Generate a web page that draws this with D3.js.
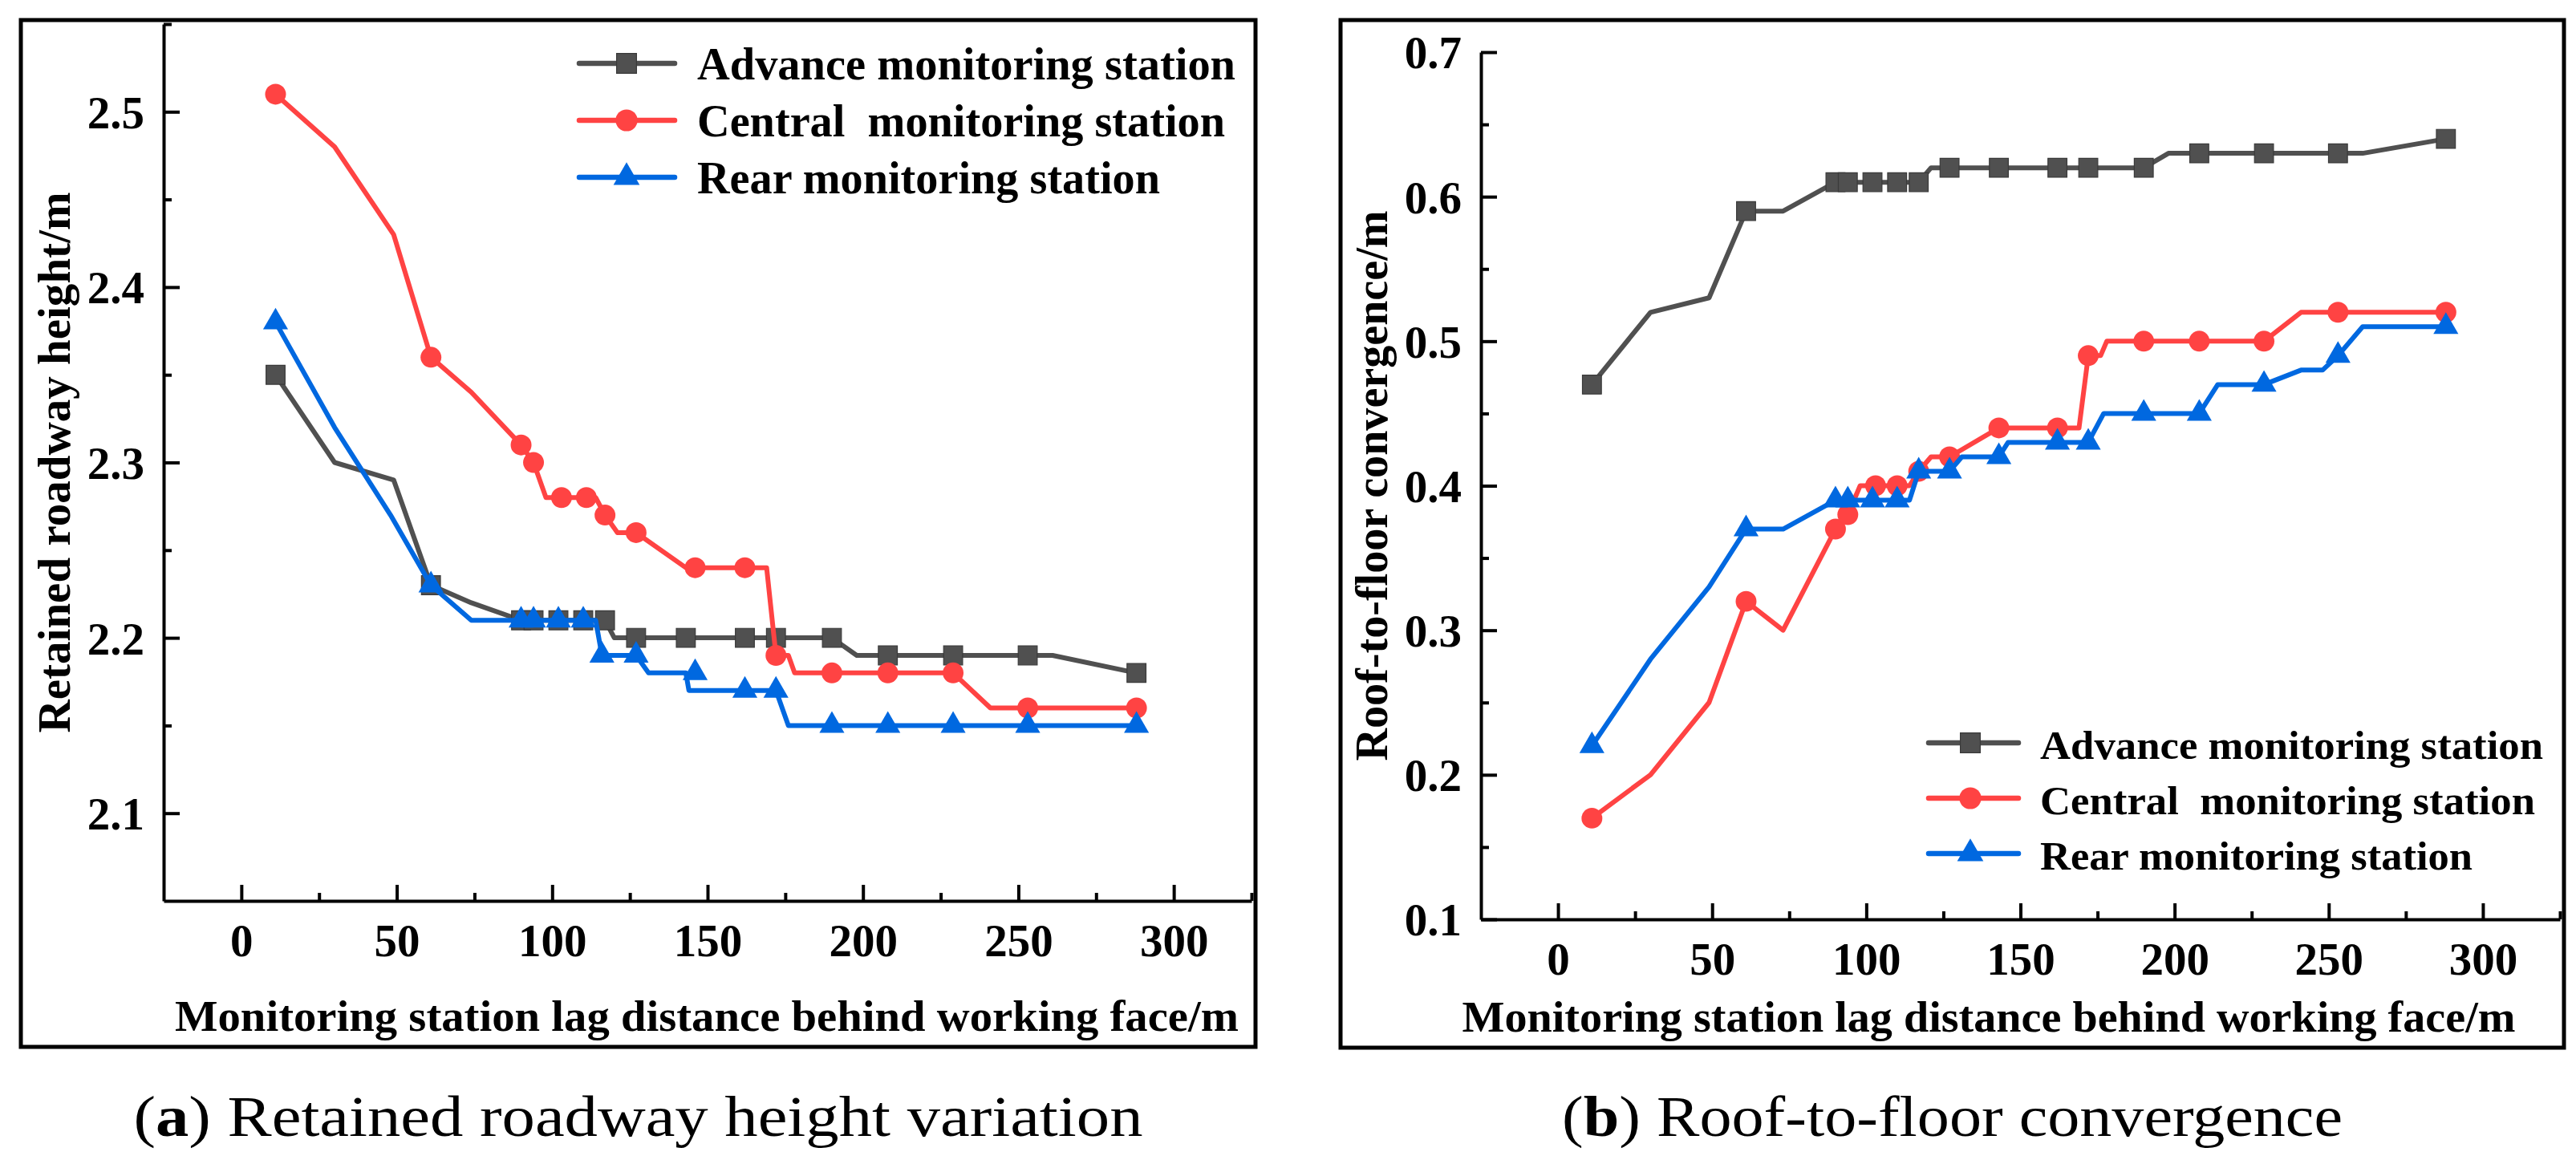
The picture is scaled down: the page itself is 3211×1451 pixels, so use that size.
<!DOCTYPE html>
<html>
<head>
<meta charset="utf-8">
<script src="https://cdn.jsdelivr.net/npm/d3@7"></script>
<style>
  body { margin: 0; background: #fff; }
  text { font-family: "Liberation Serif", "Times New Roman", serif; }
</style>
</head>
<body>
<svg id="chart" width="3211" height="1451"></svg>
<script>
// ---- data ----
const seriesNames = ["Advance monitoring station", "Central  monitoring station", "Rear monitoring station"];

// (a) retained roadway height, line vertices [x, y]
const heightAdvance = [[11,2.35],[30,2.30],[49,2.29],[61,2.23],[74,2.22],[90,2.21],[94,2.21],[102,2.21],[110,2.21],[117,2.21],[120,2.20],[127,2.20],[143,2.20],[162,2.20],[172,2.20],[190,2.20],[198,2.19],[208,2.19],[229,2.19],[253,2.19],[261,2.19],[288,2.18]];
const heightCentral = [[11,2.51],[30,2.48],[49,2.43],[61,2.36],[74,2.34],[90,2.31],[94,2.30],[98,2.28],[103,2.28],[111,2.28],[114,2.28],[117,2.27],[121,2.26],[127,2.26],[143,2.24],[146,2.24],[162,2.24],[169,2.24],[172,2.19],[176,2.19],[178,2.18],[190,2.18],[208,2.18],[229,2.18],[241,2.16],[253,2.16],[288,2.16]];
const heightRear = [[11,2.38],[30,2.32],[48,2.27],[61,2.23],[74,2.21],[90,2.21],[94,2.21],[102,2.21],[110,2.21],[114,2.21],[116,2.19],[127,2.19],[131,2.18],[143,2.18],[144,2.17],[162,2.17],[172,2.17],[176,2.15],[190,2.15],[208,2.15],[229,2.15],[253,2.15],[288,2.15]];
// (a) measured points carrying a symbol
const heightAdvanceMarks = [[11,2.35],[61,2.23],[90,2.21],[94,2.21],[102,2.21],[110,2.21],[117,2.21],[127,2.20],[143,2.20],[162,2.20],[172,2.20],[190,2.20],[208,2.19],[229,2.19],[253,2.19],[288,2.18]];
const heightCentralMarks = [[11,2.51],[61,2.36],[90,2.31],[94,2.30],[103,2.28],[111,2.28],[117,2.27],[127,2.26],[146,2.24],[162,2.24],[172,2.19],[190,2.18],[208,2.18],[229,2.18],[253,2.16],[288,2.16]];
const heightRearMarks = [[11,2.38],[61,2.23],[90,2.21],[94,2.21],[102,2.21],[110,2.21],[116,2.19],[127,2.19],[146,2.18],[162,2.17],[172,2.17],[190,2.15],[208,2.15],[229,2.15],[253,2.15],[288,2.15]];

// (b) roof-to-floor convergence, line vertices [x, y]
const convAdvance = [[11,0.47],[30,0.52],[49,0.53],[61,0.59],[73,0.59],[90,0.61],[94,0.61],[102,0.61],[110,0.61],[117,0.61],[121,0.62],[127,0.62],[143,0.62],[162,0.62],[172,0.62],[190,0.62],[198,0.63],[208,0.63],[229,0.63],[253,0.63],[261,0.63],[288,0.64]];
const convCentral = [[11,0.17],[30,0.20],[49,0.25],[61,0.32],[73,0.30],[90,0.37],[94,0.38],[98,0.40],[103,0.40],[110,0.40],[114,0.40],[117,0.41],[121,0.42],[127,0.42],[143,0.44],[162,0.44],[169,0.44],[172,0.49],[176,0.49],[178,0.50],[190,0.50],[208,0.50],[229,0.50],[241,0.52],[253,0.52],[288,0.52]];
const convRear = [[11,0.22],[30,0.28],[49,0.33],[61,0.37],[73,0.37],[90,0.39],[94,0.39],[102,0.39],[110,0.39],[114,0.39],[117,0.41],[127,0.41],[131,0.42],[143,0.42],[146,0.43],[162,0.43],[172,0.43],[177,0.45],[190,0.45],[208,0.45],[214,0.47],[229,0.47],[241,0.48],[248,0.48],[253,0.49],[261,0.51],[288,0.51]];
// (b) measured points carrying a symbol
const convAdvanceMarks = [[11,0.47],[61,0.59],[90,0.61],[94,0.61],[102,0.61],[110,0.61],[117,0.61],[127,0.62],[143,0.62],[162,0.62],[172,0.62],[190,0.62],[208,0.63],[229,0.63],[253,0.63],[288,0.64]];
const convCentralMarks = [[11,0.17],[61,0.32],[90,0.37],[94,0.38],[103,0.40],[110,0.40],[117,0.41],[127,0.42],[143,0.44],[162,0.44],[172,0.49],[190,0.50],[208,0.50],[229,0.50],[253,0.52],[288,0.52]];
const convRearMarks = [[11,0.22],[61,0.37],[90,0.39],[94,0.39],[102,0.39],[110,0.39],[117,0.41],[127,0.41],[143,0.42],[162,0.43],[172,0.43],[190,0.45],[208,0.45],[229,0.47],[253,0.49],[288,0.51]];

// ticks
const xMajor = [0, 50, 100, 150, 200, 250, 300];
const xMinor = [25, 75, 125, 175, 225, 275, 325];
const heightMajor = [2.1, 2.2, 2.3, 2.4, 2.5];
const heightMinor = [2.15, 2.25, 2.35, 2.45, 2.55];
const convMajor = [0.1, 0.2, 0.3, 0.4, 0.5, 0.6, 0.7];
const convMinor = [0.15, 0.25, 0.35, 0.45, 0.55, 0.65];

// ---- styling ----
const colors = ["#505050", "#ff4343", "#0068e0"];
const symbols = [d3.symbolSquare, d3.symbolCircle, d3.symbolTriangle];
const symbolSizes = [560, 530, 420];
const font = "'Liberation Serif', 'Times New Roman', serif";

const svg = d3.select("#chart");

// squeeze the text to the width measured on the figure (glyphs are condensed there)
function squeeze(text, w) {
  text.attr("textLength", w).attr("lengthAdjust", "spacingAndGlyphs");
}

function drawPanel(p) {
  const g = svg.append("g");

  // outer frame
  g.append("rect")
    .attr("x", p.frame[0]).attr("y", p.frame[1])
    .attr("width", p.frame[2] - p.frame[0]).attr("height", p.frame[3] - p.frame[1])
    .attr("fill", "none").attr("stroke", "#000").attr("stroke-width", 5);

  const x = d3.scaleLinear().domain([-25, 325]).range([p.left, p.right]);
  const y = d3.scaleLinear().domain(p.yDomain).range([p.bottom, p.top]);

  // y axis (inward ticks)
  const yAx = g.append("g").attr("transform", `translate(${p.left},0)`)
    .call(d3.axisLeft(y).tickValues(p.yMajor).tickSize(-20).tickSizeOuter(0).tickPadding(24)
      .tickFormat(d3.format(".1f")));
  g.append("g").attr("transform", `translate(${p.left},0)`)
    .call(d3.axisLeft(y).tickValues(p.yMinor).tickSize(-10).tickSizeOuter(0).tickFormat(""))
    .select(".domain").remove();

  // x axis (inward ticks)
  const xAx = g.append("g").attr("transform", `translate(0,${p.bottom})`)
    .call(d3.axisBottom(x).tickValues(xMajor).tickSize(-20).tickSizeOuter(0).tickFormat(d3.format("d")));
  g.append("g").attr("transform", `translate(0,${p.bottom})`)
    .call(d3.axisBottom(x).tickValues(xMinor).tickSize(-10).tickSizeOuter(0).tickFormat(""))
    .select(".domain").remove();

  g.selectAll(".domain, .tick line").attr("stroke", "#000").attr("stroke-width", 4);
  g.selectAll(".tick text").attr("fill", "#000").attr("font-family", font)
    .attr("font-weight", "bold").attr("font-size", 57);
  xAx.selectAll(".tick text").attr("dy", null).attr("y", 69);
  yAx.selectAll(".tick text").attr("dy", "0.35em");

  // axis titles
  const yt = g.append("text")
    .attr("transform", `translate(${p.yTitleX},${(p.top + p.bottom) / 2}) rotate(-90)`)
    .attr("text-anchor", "middle").attr("font-family", font).attr("font-weight", "bold")
    .attr("font-size", 58).text(p.yTitle);
  squeeze(yt, p.yTitleLen);

  const xt = g.append("text")
    .attr("x", p.xTitleX).attr("y", p.xTitleY)
    .attr("text-anchor", "middle").attr("font-family", font).attr("font-weight", "bold")
    .attr("font-size", 54).text("Monitoring station lag distance behind working face/m");
  squeeze(xt, p.xTitleLen);

  // series: line then symbols, in legend order
  const line = d3.line().x(d => x(d[0])).y(d => y(d[1]));
  p.lines.forEach((pts, i) => {
    g.append("path").datum(pts)
      .attr("d", line)
      .attr("fill", "none").attr("stroke", colors[i])
      .attr("stroke-width", 6).attr("stroke-linejoin", "round").attr("stroke-linecap", "round");
    g.selectAll(null).data(p.marks[i]).enter().append("path")
      .attr("d", d3.symbol().type(symbols[i]).size(symbolSizes[i]))
      .attr("transform", d => `translate(${x(d[0])},${y(d[1])})`)
      .attr("fill", colors[i])
      .attr("stroke", i === 0 ? "#3a3a3a" : "none").attr("stroke-width", 1.2);
  });

  // legend
  const L = p.legend;
  seriesNames.forEach((name, i) => {
    const ry = L.y + i * L.dy;
    g.append("line")
      .attr("x1", L.x0).attr("x2", L.x1).attr("y1", ry).attr("y2", ry)
      .attr("stroke", colors[i]).attr("stroke-width", 6.5).attr("stroke-linecap", "round");
    g.append("path")
      .attr("d", d3.symbol().type(symbols[i]).size(symbolSizes[i] * 1.1))
      .attr("transform", `translate(${L.mx},${ry})`)
      .attr("fill", colors[i])
      .attr("stroke", i === 0 ? "#3a3a3a" : "none").attr("stroke-width", 1.2);
    const t = g.append("text")
      .attr("x", L.tx).attr("y", ry + 20)
      .attr("font-family", font).attr("font-weight", "bold")
      .attr("font-size", L.fs).style("white-space", "pre").text(name);
    squeeze(t, L.w[i]);
  });

  // caption under the frame
  const cap = svg.append("text")
    .attr("x", (p.frame[0] + p.frame[2]) / 2).attr("y", 1416)
    .attr("text-anchor", "middle").attr("font-family", font).attr("font-size", 72)
    .attr("fill", "#000");
  cap.append("tspan").text("(");
  cap.append("tspan").attr("font-weight", "bold").text(p.tag);
  cap.append("tspan").text(") " + p.caption);
  squeeze(cap, p.captionLen);
}

drawPanel({
  frame: [26, 25, 1565, 1305],
  left: 204, right: 1560, top: 30, bottom: 1123,
  yDomain: [2.05, 2.55], yMajor: heightMajor, yMinor: heightMinor,
  yTitle: "Retained roadway height/m", yTitleX: 87, yTitleLen: 674,
  xTitleX: 881, xTitleY: 1285, xTitleLen: 1326,
  lines: [heightAdvance, heightCentral, heightRear],
  marks: [heightAdvanceMarks, heightCentralMarks, heightRearMarks],
  legend: { x0: 722, x1: 841, mx: 781, tx: 869, y: 79, dy: 71, fs: 57, w: [671, 658, 577] },
  tag: "a", caption: "Retained roadway height variation", captionLen: 1258
});

drawPanel({
  frame: [1671, 25, 3196, 1306],
  left: 1846, right: 3191, top: 65, bottom: 1146,
  yDomain: [0.1, 0.7], yMajor: convMajor, yMinor: convMinor,
  yTitle: "Roof-to-floor convergence/m", yTitleX: 1729, yTitleLen: 686,
  xTitleX: 2479, xTitleY: 1286, xTitleLen: 1313,
  lines: [convAdvance, convCentral, convRear],
  marks: [convAdvanceMarks, convCentralMarks, convRearMarks],
  legend: { x0: 2404, x1: 2516, mx: 2456, tx: 2543, y: 926, dy: 69, fs: 51, w: [627, 617, 539] },
  tag: "b", caption: "Roof-to-floor convergence", captionLen: 973
});
</script>
</body>
</html>
